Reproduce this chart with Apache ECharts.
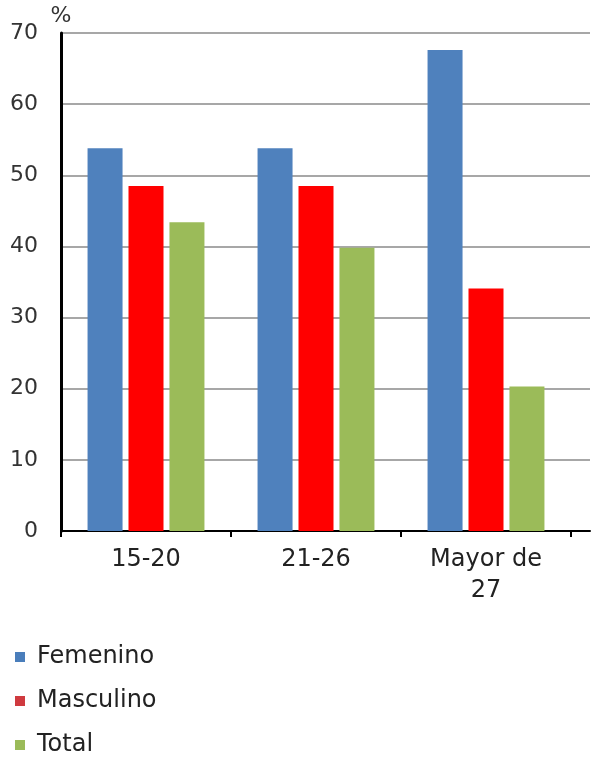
<!DOCTYPE html>
<html>
<head>
<meta charset="utf-8">
<script src="https://cdn.jsdelivr.net/npm/echarts@6/dist/echarts.min.js"></script>
<style>
html,body{margin:0;padding:0;background:#fff;}
#chart{width:594px;height:759px;}
</style>
</head>
<body>
<div id="chart"></div>
<script>
var categories = ['15-20', '21-26', 'Mayor de\n27'];
var femenino = [53.8, 53.8, 67.6];
var masculino = [48.5, 48.5, 34.1];
var total = [43.4, 39.8, 20.3];
var yTicks = { min: 0, max: 70, interval: 10 };
var seriesNames = ['Femenino', 'Masculino', 'Total'];

var colors = ['#4F81BD', '#FF0000', '#9BBB59'];
var legendColors = ['#4A7EBB', '#CF3A3F', '#9BBB59'];
var font = 'DejaVu Sans';

var chart = echarts.init(document.getElementById('chart'), null, { renderer: 'canvas' });

var option = {
  backgroundColor: '#ffffff',
  animation: false,
  grid: [
    { left: 61, right: 4, top: 33, bottom: 228 },
    { left: 61, right: 23, top: 33, bottom: 228 }
  ],
  xAxis: [
    {
      gridIndex: 0, type: 'value', min: 0, max: 1,
      axisLine: { show: true, lineStyle: { color: '#000', width: 2 } },
      axisTick: { show: false }, axisLabel: { show: false }, splitLine: { show: false }
    },
    {
      gridIndex: 1, type: 'category', data: categories,
      axisLine: { show: false },
      axisTick: { show: true, length: 6, lineStyle: { color: '#000', width: 2 } },
      axisLabel: { color: '#222', fontFamily: font, fontSize: 24, lineHeight: 31, margin: 13, interval: 0 }
    }
  ],
  yAxis: [
    {
      gridIndex: 0, type: 'value', min: yTicks.min, max: yTicks.max, interval: yTicks.interval,
      name: '%', nameLocation: 'end', nameGap: 6,
      nameTextStyle: { color: '#333', fontFamily: font, fontSize: 22, align: 'center' },
      axisLine: { show: true, lineStyle: { color: '#000', width: 3 } },
      axisTick: { show: false },
      axisLabel: { color: '#333', fontFamily: font, fontSize: 22, margin: 23 },
      splitLine: { show: true, lineStyle: { color: '#8a8a8a', width: 1.5 } }
    },
    {
      gridIndex: 1, type: 'value', min: yTicks.min, max: yTicks.max, interval: yTicks.interval,
      show: false, splitLine: { show: false }
    }
  ],
  legend: {
    orient: 'vertical', left: 15, top: 645, itemGap: 20, padding: 0,
    itemWidth: 10, itemHeight: 10, icon: 'rect',
    textStyle: { color: '#222', fontFamily: font, fontSize: 24, lineHeight: 24, padding: [0, 0, 0, 7] },
    data: seriesNames.map(function (n, i) { return { name: n, itemStyle: { color: legendColors[i] } }; })
  },
  series: [
    { name: seriesNames[0], type: 'bar', xAxisIndex: 1, yAxisIndex: 1, data: femenino, barWidth: 35, barGap: '17%', itemStyle: { color: colors[0] } },
    { name: seriesNames[1], type: 'bar', xAxisIndex: 1, yAxisIndex: 1, data: masculino, barWidth: 35, barGap: '17%', itemStyle: { color: colors[1] } },
    { name: seriesNames[2], type: 'bar', xAxisIndex: 1, yAxisIndex: 1, data: total, barWidth: 35, barGap: '17%', itemStyle: { color: colors[2] } }
  ]
};
chart.setOption(option);
</script>
</body>
</html>
